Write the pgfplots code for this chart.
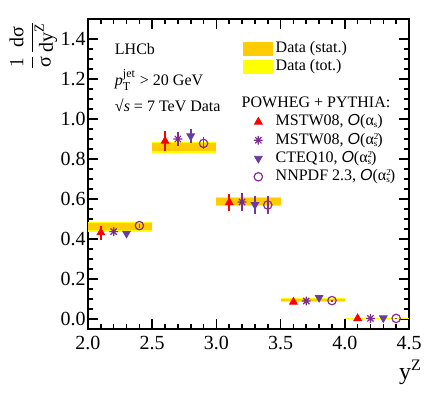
\documentclass[border=0pt]{standalone}
\usepackage{amsmath}
\usepackage{fontspec}
\setmainfont{Liberation Serif}
\setsansfont{Liberation Sans}
\usepackage{pgfplots}
\pgfplotsset{compat=1.18}

\definecolor{statc}{HTML}{FFCC00}
\definecolor{totc}{HTML}{FFFF00}
\definecolor{mred}{HTML}{FF0000}
\definecolor{starpur}{HTML}{7F2A8F}
\definecolor{ctpur}{HTML}{6A3BA0}
\definecolor{nnpur}{HTML}{8A2B9A}

% eight-armed asterisk like the ROOT marker
\pgfdeclareplotmark{star8}{%
  \pgfpathmoveto{\pgfqpoint{0pt}{\pgfplotmarksize}}\pgfpathlineto{\pgfqpoint{0pt}{-\pgfplotmarksize}}%
  \pgfpathmoveto{\pgfqpoint{\pgfplotmarksize}{0pt}}\pgfpathlineto{\pgfqpoint{-\pgfplotmarksize}{0pt}}%
  \pgfpathmoveto{\pgfqpoint{.707\pgfplotmarksize}{.707\pgfplotmarksize}}\pgfpathlineto{\pgfqpoint{-.707\pgfplotmarksize}{-.707\pgfplotmarksize}}%
  \pgfpathmoveto{\pgfqpoint{-.707\pgfplotmarksize}{.707\pgfplotmarksize}}\pgfpathlineto{\pgfqpoint{.707\pgfplotmarksize}{-.707\pgfplotmarksize}}%
  \pgfusepathqstroke}

\pgfplotsset{
  mleg/.style={legend image code/.code={\path[draw=none,fill=none] (0pt,-3pt) rectangle (14.5pt,3pt);
      \draw[##1] plot coordinates {(7.25pt,0pt)};}},
  pred/.style={only marks, mleg, error bars/.cd, y dir=both, y explicit,
      error mark=none, error bar style={line width=0.8pt}, /pgfplots/.cd},
}
\newcommand{\Oa}{\textsf{\textit{O}}}
% alpha_s^2 with small, tightly stacked scripts
\newcommand{\asq}{α\rlap{\raisebox{2.4pt}{\fontsize{4.5}{5}\selectfont 2}}\raisebox{-1pt}{\fontsize{4.5}{5}\selectfont s}}

\begin{document}
\begin{tikzpicture}
\useasboundingbox (-44pt,-31.5pt) rectangle (172pt,164.5pt);
\begin{axis}[
  scale only axis, width=160.5pt, height=155pt,
  xmin=2.0, xmax=4.5, ymin=-0.05, ymax=1.5,
  xtick={2.0,2.5,...,4.5}, ytick={0,0.2,...,1.4},
  minor x tick num=4, minor y tick num=3,
  tick align=inside, axis line style={line width=1.1pt},
  major tick length=5pt, minor tick length=2.5pt,
  every tick/.style={black, line width=0.8pt},
  /pgf/number format/assume math mode=true,
  /pgf/number format/.cd, fixed, fixed zerofill, precision=1, /pgfplots/.cd,
  tick label style={font=\fontsize{10}{12}\selectfont},
  yticklabel style={inner sep=1pt},
  xlabel={y\textsuperscript{Z}},
  xlabel style={font=\fontsize{12}{14}\selectfont, at={(rel axis cs:1.005,-0.14)}, anchor=center},
  ylabel={$\dfrac{1}{\text{σ}}\dfrac{\text{dσ}}{\text{dy}^{\text{Z}}}$},
  ylabel style={font=\fontsize{10}{12}\selectfont, at={(rel axis cs:-0.17,0.915)}, anchor=center},
  legend cell align=left,
  legend style={at={(rel axis cs:0.483,0.935)}, anchor=north west, draw=none, fill=none,
    inner sep=0pt, row sep=0pt, column sep=1pt, font=\fontsize{8}{9}\selectfont,
    nodes={inner sep=0.25pt, text height=6.3pt, text depth=2.35pt}},
]
% Data total uncertainty bands
\addplot[fill=totc, draw=none, forget plot] coordinates {(2.0,0.437) (2.5,0.437) (2.5,0.487) (2.0,0.487)} --cycle;
\addplot[fill=totc, draw=none, forget plot] coordinates {(2.5,0.832) (3.0,0.832) (3.0,0.884) (2.5,0.884)} --cycle;
\addplot[fill=totc, draw=none, forget plot] coordinates {(3.0,0.566) (3.5,0.566) (3.5,0.610) (3.0,0.610)} --cycle;
\addplot[fill=totc, draw=none, forget plot] coordinates {(3.5,0.087) (4.0,0.087) (4.0,0.103) (3.5,0.103)} --cycle;
\addplot[fill=totc, draw=none, forget plot] coordinates {(4.0,0.001) (4.5,0.001) (4.5,0.005) (4.0,0.005)} --cycle;
% Data statistical uncertainty bands
\addplot[fill=statc, draw=none, forget plot] coordinates {(2.0,0.443) (2.5,0.443) (2.5,0.481) (2.0,0.481)} --cycle;
\addplot[fill=statc, draw=none, forget plot] coordinates {(2.5,0.838) (3.0,0.838) (3.0,0.878) (2.5,0.878)} --cycle;
\addplot[fill=statc, draw=none, forget plot] coordinates {(3.0,0.571) (3.5,0.571) (3.5,0.605) (3.0,0.605)} --cycle;
\addplot[fill=statc, draw=none, forget plot] coordinates {(3.5,0.089) (4.0,0.089) (4.0,0.101) (3.5,0.101)} --cycle;

\addlegendimage{legend image code/.code={\fill[statc] (0pt,-3.25pt) rectangle (14.5pt,3.25pt);}}
\addlegendentry{Data (stat.)}
\addlegendimage{legend image code/.code={\fill[totc] (0pt,-3.25pt) rectangle (14.5pt,3.25pt);}}
\addlegendentry{Data (tot.)}
\addlegendimage{legend image code/.code={\path[draw=none,fill=none] (0pt,-3pt) rectangle (14.5pt,3pt);}}
\addlegendentry{}
\addlegendimage{legend image code/.code={\path[draw=none,fill=none] (0pt,-3pt) rectangle (14.5pt,3pt);}}
\addlegendentry{\hspace*{-17pt}POWHEG + PYTHIA:}

\addplot[pred, mark=triangle*, color=mred, mark size=2.2pt] coordinates {
  (2.1,0.432) +- (0,0.035)
  (2.6,0.890) +- (0,0.050)
  (3.1,0.583) +- (0,0.042)
  (3.6,0.085) +- (0,0.005)
  (4.1,0.003) +- (0,0.002)
};
\addlegendentry{MSTW08, \Oa(α\raisebox{-1pt}{\fontsize{4.5}{5}\selectfont s})}
\addplot[pred, mark=star8, color=starpur, mark size=2.2pt, mark options={line width=0.6pt}] coordinates {
  (2.2,0.437) +- (0,0.012)
  (2.7,0.900) +- (0,0.035)
  (3.2,0.585) +- (0,0.046)
  (3.7,0.090) +- (0,0.005)
  (4.2,0.003) +- (0,0.002)
};
\addlegendentry{MSTW08, \Oa(\asq)}
\addplot[pred, mark=triangle*, mark options={rotate=180}, color=ctpur, mark size=2.2pt] coordinates {
  (2.3,0.428) +- (0,0.010)
  (2.8,0.915) +- (0,0.035)
  (3.3,0.572) +- (0,0.045)
  (3.8,0.107) +- (0,0.005)
  (4.3,0.005) +- (0,0.002)
};
\addlegendentry{CTEQ10, \Oa(\asq)}
\addplot[pred, mark=o, color=nnpur, mark size=2.1pt, mark options={fill=white, line width=0.6pt}] coordinates {
  (2.4,0.467) +- (0,0.010)
  (2.9,0.878) +- (0,0.030)
  (3.4,0.570) +- (0,0.045)
  (3.9,0.092) +- (0,0.005)
  (4.4,0.003) +- (0,0.002)
};
\addlegendentry{NNPDF 2.3, \Oa(\asq)}

\node[anchor=west, font=\fontsize{8}{9}\selectfont] at (axis cs:2.155,1.35) {LHCb};
\node[anchor=west, font=\fontsize{8}{9}\selectfont] at (axis cs:2.155,1.195) {$\mathit{p}_{\text{T}}^{\text{jet}}$ > 20 GeV};
\node[anchor=west, font=\fontsize{8}{9}\selectfont] at (axis cs:2.155,1.07) {√\textit{s} = 7 TeV Data};
\end{axis}
\end{tikzpicture}
\end{document}
